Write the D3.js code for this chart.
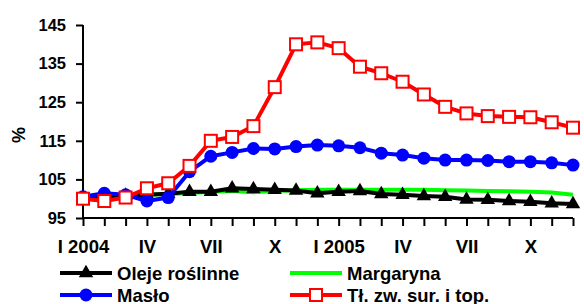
<!DOCTYPE html>
<style>
body { margin: 0; background: #fff; }
text { font-family: "Liberation Sans", Arial, sans-serif; font-weight: bold; }
</style>
<svg width="584" height="304"></svg>
<script src="https://d3js.org/d3.v7.min.js"></script>
<script>
var months = ["I 2004","II","III","IV","V","VI","VII","VIII","IX","X","XI","XII",
              "I 2005","II","III","IV","V","VI","VII","VIII","IX","X","XI","XII"];
var tickLabels = {0:"I 2004",3:"IV",6:"VII",9:"X",12:"I 2005",15:"IV",18:"VII",21:"X"};
var yTicks = [95,105,115,125,135,145];

var oleje = [100.3,100.5,100.8,101,101.3,101.8,101.8,102.7,102.5,102.3,102.1,101.4,
             101.8,102,101.2,101,100.7,100.5,99.8,99.7,99.4,99.2,98.8,98.6];
var margaryna = [100.3,100.5,100.7,101,101.2,101.5,101.8,102,101.7,102,102.2,102.3,
                 102.3,102.3,102.3,102.3,102.3,102.2,102.1,102,101.9,101.8,101.6,101];
var maslo = [100.5,101.4,101,99.4,100.3,107,111,112,113,112.9,113.5,113.9,
             113.7,113.2,111.8,111.3,110.5,110,110,109.9,109.6,109.6,109.3,108.7];
var tluszcze = [100,99.4,100.3,102.7,104,108.5,115,116,118.8,128.9,140,140.5,
                139,134.2,132.5,130.3,127,123.8,122.1,121.4,121.2,121.1,119.8,118.4];

var svg = d3.select("svg");
var x = d3.scaleLinear().domain([0, 23]).range([83, 573]);
var y = d3.scaleLinear().domain([95, 145]).range([218, 25]);

// axes
svg.append("g")
    .attr("transform", "translate(83,0)")
    .call(d3.axisLeft(y).tickValues(yTicks).tickSize(7).tickPadding(10))
    .call(function(g) {
      g.select(".domain").attr("stroke-width", 2).attr("d", "M0,25V218");
      g.selectAll("line").attr("stroke-width", 2);
      g.selectAll("text").attr("font-size", 16.5).attr("fill", "#000");
    });

svg.append("g")
    .attr("transform", "translate(0,218)")
    .call(d3.axisBottom(x).tickValues(d3.range(24)).tickSize(8).tickPadding(14)
      .tickFormat(function(i) { return tickLabels[i] || ""; }))
    .call(function(g) {
      g.select(".domain").attr("stroke-width", 2).attr("d", "M83,0H573");
      g.selectAll("line").attr("stroke-width", 2);
      g.selectAll("text").attr("font-size", 18.5).attr("fill", "#000");
    });

svg.append("text")
    .attr("transform", "translate(25,135) rotate(-90)")
    .attr("text-anchor", "middle")
    .attr("font-size", 18)
    .text("%");

var line = d3.line().x(function(d, i) { return x(i); }).y(function(d) { return y(d); });

function drawMarker(g, type, color, cx, cy) {
  if (type == "tri") {
    g.append("path").attr("d", d3.symbol(d3.symbolTriangle, 90)())
      .attr("transform", "translate(" + cx + "," + cy + ")").attr("fill", "#000");
  } else if (type == "circle") {
    g.append("circle").attr("cx", cx).attr("cy", cy).attr("r", 6.5).attr("fill", color);
  } else if (type == "square") {
    g.append("rect").attr("x", cx - 6).attr("y", cy - 6).attr("width", 12).attr("height", 12)
      .attr("fill", "#fff").attr("stroke", color).attr("stroke-width", 2);
  }
}

var series = [
  {name: "Margaryna", data: margaryna, color: "#00ff00", marker: null},
  {name: "Oleje roślinne", data: oleje, color: "#000", marker: "tri"},
  {name: "Masło", data: maslo, color: "#0000ff", marker: "circle"},
  {name: "Tł. zw. sur. i top.", data: tluszcze, color: "#ff0000", marker: "square"}
];

series.forEach(function(s) {
  var g = svg.append("g");
  g.append("path").datum(s.data).attr("d", line)
    .attr("fill", "none").attr("stroke", s.color).attr("stroke-width", 4)
    .attr("stroke-linejoin", "round");
  if (s.marker) s.data.forEach(function(d, i) { drawMarker(g, s.marker, s.color, x(i), y(d)); });
});

// legend
var legend = [
  {s: series[1], x: 60, y: 273},
  {s: series[0], x: 290, y: 273},
  {s: series[2], x: 60, y: 295},
  {s: series[3], x: 290, y: 295}
];
legend.forEach(function(l) {
  var g = svg.append("g");
  g.append("line").attr("x1", l.x).attr("x2", l.x + 52).attr("y1", l.y).attr("y2", l.y)
    .attr("stroke", l.s.color).attr("stroke-width", 4);
  if (l.s.marker) drawMarker(g, l.s.marker, l.s.color, l.x + 26, l.y);
  g.append("text").attr("x", l.x + 57).attr("y", l.y + 6.5)
    .attr("font-size", 18.5).text(l.s.name);
});
</script>
